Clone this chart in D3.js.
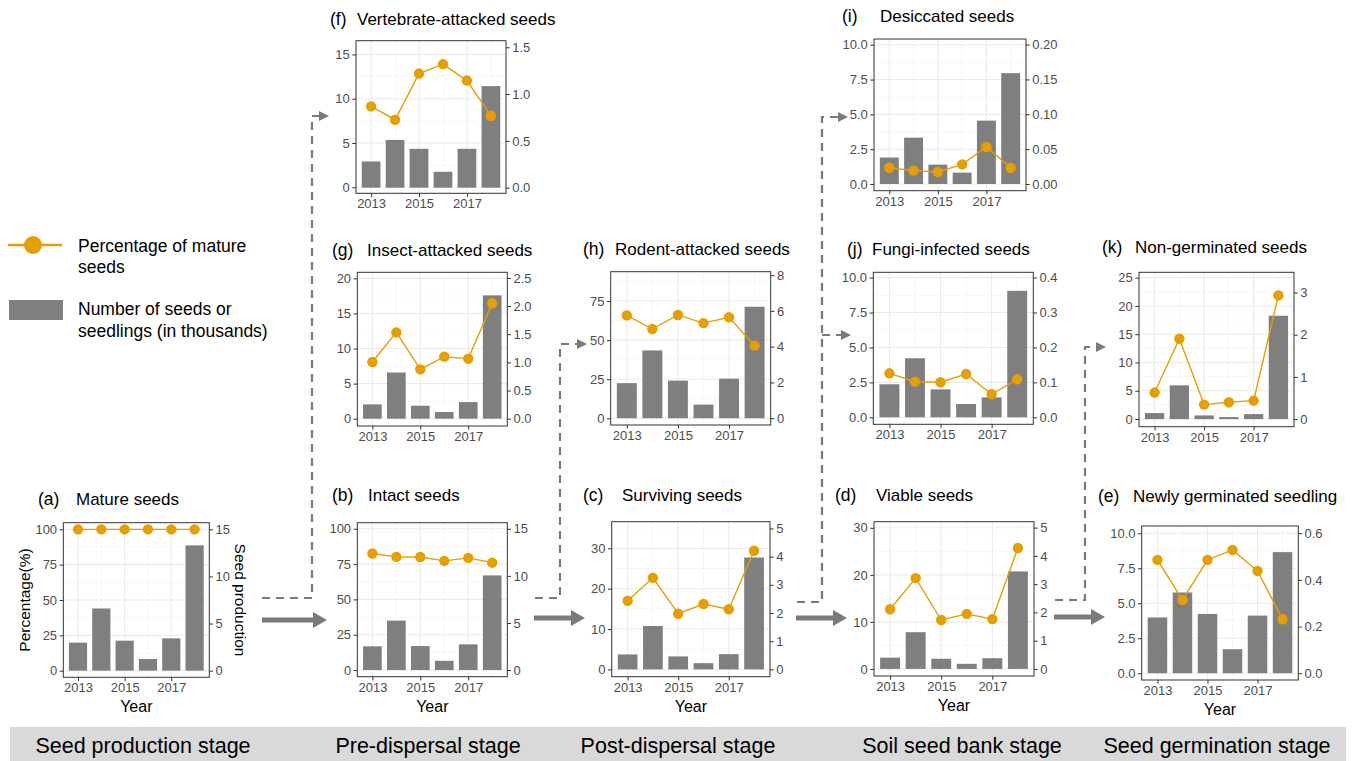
<!DOCTYPE html>
<html>
<head>
<meta charset="utf-8">
<script src="https://cdn.jsdelivr.net/npm/d3@7"></script>
<style>
  body { margin: 0; background: #fff; }
  text { font-family: "Liberation Sans", Arial, sans-serif; }
</style>
</head>
<body>
<div id="chart"></div>
<script>
// years on the x axis
const years = [2013, 2014, 2015, 2016, 2017, 2018];
const yearTicks = [2013, 2015, 2017];

// percentage of mature seeds (left axis) and number in thousands (right axis)
const maturePct = [100, 100, 100, 100, 100, 100];
const matureNum = [2.97, 6.6, 3.18, 1.24, 3.43, 13.3];
const intactPct = [82.5, 80.1, 80.0, 77.3, 79.4, 76.0];
const intactNum = [2.52, 5.25, 2.55, 0.98, 2.73, 10.05];
const survivingPct = [17.0, 22.7, 13.8, 16.2, 14.9, 29.4];
const survivingNum = [0.53, 1.54, 0.46, 0.22, 0.54, 3.97];
const viablePct = [12.7, 19.3, 10.4, 11.7, 10.6, 25.7];
const viableNum = [0.40, 1.30, 0.36, 0.18, 0.38, 3.45];
const seedlingPct = [8.10, 5.24, 8.10, 8.81, 7.31, 3.86];
const seedlingNum = [0.239, 0.346, 0.254, 0.103, 0.247, 0.519];
const vertebratePct = [9.14, 7.63, 12.84, 13.9, 12.05, 8.08];
const vertebrateNum = [0.28, 0.51, 0.415, 0.17, 0.415, 1.085];
const insectPct = [8.08, 12.3, 7.03, 8.84, 8.55, 16.44];
const insectNum = [0.254, 0.82, 0.23, 0.118, 0.295, 2.19];
const rodentPct = [65.8, 57.1, 66.1, 60.9, 64.6, 46.5];
const rodentNum = [1.96, 3.79, 2.10, 0.76, 2.21, 6.23];
const desiccatedPct = [1.17, 0.96, 0.86, 1.41, 2.66, 1.17];
const desiccatedNum = [0.038, 0.0665, 0.0278, 0.0163, 0.0909, 0.159];
const fungiPct = [3.15, 2.55, 2.51, 3.10, 1.65, 2.72];
const fungiNum = [0.0945, 0.169, 0.080, 0.038, 0.057, 0.362];
const nonGermPct = [4.68, 14.2, 2.55, 2.96, 3.26, 21.86];
const nonGermNum = [0.143, 0.80, 0.087, 0.048, 0.119, 2.45];

const stageLabels = ["Seed production stage", "Pre-dispersal stage", "Post-dispersal stage",
  "Soil seed bank stage", "Seed germination stage"];

const ORANGE = "#E69F00", BAR = "#7F7F7F";

// layout of each small panel
const panels = [
  {tag:"(a)", title:"Mature seeds", pct:maturePct, num:matureNum, box:[63.3,522.7,209.3,677.3],
   left:[-4.7,104.7], right:[-0.705,15.705], lt:[0,25,50,75,100], rt:[0,5,10,15], lf:d3.format("d"), rf:d3.format("d"),
   tagX:38, titleX:76, titleY:505, year:true},
  {tag:"(b)", title:"Intact seeds", pct:intactPct, num:intactNum, box:[357.3,522.7,507.3,676.7],
   left:[-4.7,104.3], right:[-0.705,15.645], lt:[0,25,50,75,100], rt:[0,5,10,15], lf:d3.format("d"), rf:d3.format("d"),
   tagX:332, titleX:368, titleY:500.5, year:true},
  {tag:"(c)", title:"Surviving seeds", pct:survivingPct, num:survivingNum, box:[611.7,521.7,770,676.7],
   left:[-1.8,36.6], right:[-0.26,5.24], lt:[0,10,20,30], rt:[0,1,2,3,4,5], lf:d3.format("d"), rf:d3.format("d"),
   tagX:583, titleX:622, titleY:500.5, year:true},
  {tag:"(d)", title:"Viable seeds", pct:viablePct, num:viableNum, box:[874,521.7,1034,676],
   left:[-1.5,31.3], right:[-0.25,5.21], lt:[0,10,20,30], rt:[0,1,2,3,4,5], lf:d3.format("d"), rf:d3.format("d"),
   tagX:835, titleX:876, titleY:500.5, year:true},
  {tag:"(e)", title:"Newly germinated seedling", pct:seedlingPct, num:seedlingNum, box:[1141.7,526,1298.3,680],
   left:[-0.48,10.52], right:[-0.029,0.631], lt:[0,2.5,5,7.5,10], rt:[0,0.2,0.4,0.6], lf:d3.format(".1f"), rf:d3.format(".1f"),
   tagX:1098, titleX:1133, titleY:502, year:true},
  {tag:"(f)", title:"Vertebrate-attacked seeds", pct:vertebratePct, num:vertebrateNum, box:[356,40.7,506,193.3],
   left:[-0.68,16.55], right:[-0.06,1.57], lt:[0,5,10,15], rt:[0,0.5,1,1.5], lf:d3.format("d"), rf:d3.format(".1f"),
   tagX:330, titleX:357, titleY:25},
  {tag:"(g)", title:"Insect-attacked seeds", pct:insectPct, num:insectNum, box:[357.3,272.3,507.3,426],
   left:[-1.04,20.86], right:[-0.13,2.6], lt:[0,5,10,15,20], rt:[0,0.5,1,1.5,2,2.5], lf:d3.format("d"), rf:d3.format(".1f"),
   tagX:332, titleX:367, titleY:255.5},
  {tag:"(h)", title:"Rodent-attacked seeds", pct:rodentPct, num:rodentNum, box:[610.7,271.7,770.7,425],
   left:[-4.26,93.75], right:[-0.38,8.19], lt:[0,25,50,75], rt:[0,2,4,6,8], lf:d3.format("d"), rf:d3.format("d"),
   tagX:583, titleX:615, titleY:254.5},
  {tag:"(i)", title:"Desiccated seeds", pct:desiccatedPct, num:desiccatedNum, box:[874,39,1026,190.7],
   left:[-0.48,10.41], right:[-0.0096,0.208], lt:[0,2.5,5,7.5,10], rt:[0,0.05,0.1,0.15,0.2], lf:d3.format(".1f"), rf:d3.format(".2f"),
   tagX:842, titleX:880, titleY:22},
  {tag:"(j)", title:"Fungi-infected seeds", pct:fungiPct, num:fungiNum, box:[873.3,272.3,1033.3,424.3],
   left:[-0.5,10.38], right:[-0.02,0.415], lt:[0,2.5,5,7.5,10], rt:[0,0.1,0.2,0.3,0.4], lf:d3.format(".1f"), rf:d3.format(".1f"),
   tagX:847, titleX:872, titleY:255},
  {tag:"(k)", title:"Non-germinated seeds", pct:nonGermPct, num:nonGermNum, box:[1139,272.3,1294,426.7],
   left:[-1.36,25.95], right:[-0.18,3.48], lt:[0,5,10,15,20,25], rt:[0,1,2,3], lf:d3.format("d"), rf:d3.format("d"),
   tagX:1102, titleX:1135, titleY:253}
];

const W = 1356, H = 761;
const svg = d3.select("#chart").append("svg")
  .attr("width", W).attr("height", H);

svg.append("rect").attr("width", W).attr("height", H).attr("fill", "#fff");

// bottom stage band
svg.append("rect").attr("x", 10).attr("y", 727).attr("width", 1336).attr("height", 34).attr("fill", "#D9D9D9");
const stageX = [143, 428, 678, 962, 1217];
svg.selectAll(".stage").data(stageLabels).join("text")
  .attr("x", (d, i) => stageX[i]).attr("y", 753)
  .attr("text-anchor", "middle").attr("font-size", 21.5).attr("fill", "#000")
  .text(d => d);

panels.forEach(p => {
  const [x0, y0, x1, y1] = p.box;
  const x = d3.scaleLinear().domain([2012.37, 2018.63]).range([x0, x1]);
  const yL = d3.scaleLinear().domain(p.left).range([y1, y0]);
  const yR = d3.scaleLinear().domain(p.right).range([y1, y0]);
  const g = svg.append("g");

  // gridlines
  const step = p.lt[1] - p.lt[0];
  const minors = d3.range(p.lt[0] - step / 2, p.left[1], step).filter(v => v > p.left[0] && v < p.left[1]);
  g.selectAll(".hmin").data(minors).join("line")
    .attr("x1", x0).attr("x2", x1).attr("y1", d => yL(d)).attr("y2", d => yL(d))
    .attr("stroke", "#F2F2F2").attr("stroke-width", 0.6);
  g.selectAll(".vmin").data([2014, 2016, 2018]).join("line")
    .attr("y1", y0).attr("y2", y1).attr("x1", d => x(d)).attr("x2", d => x(d))
    .attr("stroke", "#F2F2F2").attr("stroke-width", 0.6);
  g.selectAll(".hmaj").data(p.lt).join("line")
    .attr("x1", x0).attr("x2", x1).attr("y1", d => yL(d)).attr("y2", d => yL(d))
    .attr("stroke", "#EBEBEB").attr("stroke-width", 1.1);
  g.selectAll(".vmaj").data(yearTicks).join("line")
    .attr("y1", y0).attr("y2", y1).attr("x1", d => x(d)).attr("x2", d => x(d))
    .attr("stroke", "#EBEBEB").attr("stroke-width", 1.1);

  // bars (number, right axis)
  const bw = x(2013.39) - x(2013);
  g.selectAll(".bar").data(years).join("rect")
    .attr("x", (d) => x(d) - bw).attr("width", bw * 2)
    .attr("y", (d, i) => yR(p.num[i])).attr("height", (d, i) => yR(0) - yR(p.num[i]))
    .attr("fill", BAR);

  // line + points (percentage, left axis)
  g.append("path").datum(years)
    .attr("fill", "none").attr("stroke", ORANGE).attr("stroke-width", 1.4)
    .attr("d", d3.line().x(d => x(d)).y((d, i) => yL(p.pct[i])));
  g.selectAll(".pt").data(years).join("circle")
    .attr("cx", d => x(d)).attr("cy", (d, i) => yL(p.pct[i])).attr("r", 5.2)
    .attr("fill", ORANGE);

  // panel border
  g.append("rect").attr("x", x0).attr("y", y0).attr("width", x1 - x0).attr("height", y1 - y0)
    .attr("fill", "none").attr("stroke", "#333").attr("stroke-width", 1);

  // axes
  const styleAxis = sel => {
    sel.select(".domain").remove();
    sel.selectAll(".tick line").attr("stroke", "#333");
    sel.selectAll(".tick text").attr("fill", "#4D4D4D").attr("font-size", 13)
      .attr("font-family", "'Liberation Sans', Arial, sans-serif");
  };
  g.append("g").attr("transform", `translate(${x0},0)`)
    .call(d3.axisLeft(yL).tickValues(p.lt).tickFormat(p.lf).tickSize(3.7).tickPadding(2.5))
    .call(styleAxis);
  g.append("g").attr("transform", `translate(${x1},0)`)
    .call(d3.axisRight(yR).tickValues(p.rt).tickFormat(p.rf).tickSize(3.7).tickPadding(2.5))
    .call(styleAxis);
  g.append("g").attr("transform", `translate(0,${y1})`)
    .call(d3.axisBottom(x).tickValues(yearTicks).tickFormat(d3.format("d")).tickSize(3.7).tickPadding(2))
    .call(styleAxis);

  // titles
  g.append("text").attr("x", p.tagX).attr("y", p.titleY).attr("font-size", 17.5).text(p.tag);
  g.append("text").attr("x", p.titleX).attr("y", p.titleY).attr("font-size", 17).text(p.title);
  if (p.year) {
    g.append("text").attr("x", (x0 + x1) / 2).attr("y", y1 + 35).attr("text-anchor", "middle")
      .attr("font-size", 16).text("Year");
  }
});

// axis titles of panel (a)
svg.append("text").attr("transform", "translate(30,600) rotate(-90)").attr("text-anchor", "middle")
  .attr("font-size", 15.5).text("Percentage(%)");
svg.append("text").attr("transform", "translate(235,600) rotate(90)").attr("text-anchor", "middle")
  .attr("font-size", 15.5).text("Seed production");

// legend
svg.append("line").attr("x1", 8).attr("x2", 62).attr("y1", 245).attr("y2", 245)
  .attr("stroke", ORANGE).attr("stroke-width", 2.5);
svg.append("circle").attr("cx", 33).attr("cy", 245).attr("r", 9).attr("fill", ORANGE);
svg.append("text").attr("x", 78).attr("y", 252).attr("font-size", 17.5).text("Percentage of mature");
svg.append("text").attr("x", 78).attr("y", 273).attr("font-size", 17.5).text("seeds");
svg.append("rect").attr("x", 9).attr("y", 300).attr("width", 54).attr("height", 20).attr("fill", BAR);
svg.append("text").attr("x", 78).attr("y", 315).attr("font-size", 17.5).text("Number of seeds or");
svg.append("text").attr("x", 78).attr("y", 337).attr("font-size", 17.5).text("seedlings (in thousands)");

// flow arrows between stages
const GREY = "#7A7A7A";
const solid = [[262, 620, 327], [534, 618, 585], [796, 618, 847], [1054, 617, 1105]];
solid.forEach(([xs, y, xt]) => {
  svg.append("line").attr("x1", xs).attr("x2", xt - 12).attr("y1", y).attr("y2", y)
    .attr("stroke", GREY).attr("stroke-width", 5);
  svg.append("path").attr("d", `M${xt},${y} L${xt - 14},${y - 8} L${xt - 14},${y + 8} Z`).attr("fill", GREY);
});

const dashed = [
  {xs: 262, y: 598, xv: 312, yt: 116, xt: 329},
  {xs: 535, y: 598, xv: 560, yt: 344, xt: 587},
  {xs: 797, y: 602, xv: 822, yt: 117, xt: 848},
  {xs: 1055, y: 600, xv: 1085, yt: 347, xt: 1106}
];
dashed.forEach(d => {
  svg.append("path").attr("d", `M${d.xs},${d.y} H${d.xv} V${d.yt} H${d.xt - 8}`)
    .attr("fill", "none").attr("stroke", GREY).attr("stroke-width", 2.2).attr("stroke-dasharray", "8,6");
  svg.append("path").attr("d", `M${d.xt},${d.yt} L${d.xt - 10},${d.yt - 5} L${d.xt - 10},${d.yt + 5} Z`).attr("fill", GREY);
});
// branch from the soil-seed-bank flow to (j)
svg.append("path").attr("d", "M822,335 H842").attr("stroke", GREY).attr("stroke-width", 2.2).attr("stroke-dasharray", "8,6");
svg.append("path").attr("d", "M851,335 L841,330 L841,340 Z").attr("fill", GREY);
</script>
</body>
</html>
